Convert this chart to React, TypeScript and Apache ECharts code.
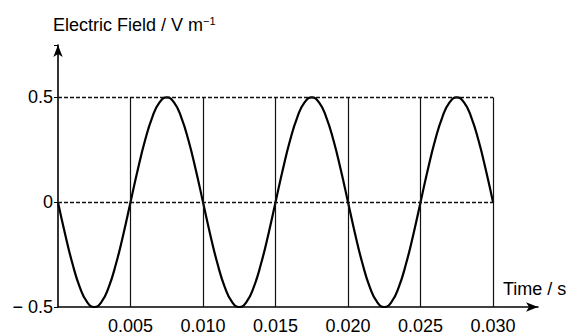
import React, { useEffect, useRef } from "react";
import * as echarts from "echarts";

const times: number[] = [
  0, 0.0005, 0.001, 0.0015, 0.002, 0.0025, 0.003, 0.0035, 0.004, 0.0045,
  0.005, 0.0055, 0.006, 0.0065, 0.007, 0.0075, 0.008, 0.0085, 0.009, 0.0095,
  0.01, 0.0105, 0.011, 0.0115, 0.012, 0.0125, 0.013, 0.0135, 0.014, 0.0145,
  0.015, 0.0155, 0.016, 0.0165, 0.017, 0.0175, 0.018, 0.0185, 0.019, 0.0195,
  0.02, 0.0205, 0.021, 0.0215, 0.022, 0.0225, 0.023, 0.0235, 0.024, 0.0245,
  0.025, 0.0255, 0.026, 0.0265, 0.027, 0.0275, 0.028, 0.0285, 0.029, 0.0295,
  0.03,
];

const field: number[] = [
  0, -0.155, -0.294, -0.405, -0.476, -0.5, -0.476, -0.405, -0.294, -0.155,
  0, 0.155, 0.294, 0.405, 0.476, 0.5, 0.476, 0.405, 0.294, 0.155,
  0, -0.155, -0.294, -0.405, -0.476, -0.5, -0.476, -0.405, -0.294, -0.155,
  0, 0.155, 0.294, 0.405, 0.476, 0.5, 0.476, 0.405, 0.294, 0.155,
  0, -0.155, -0.294, -0.405, -0.476, -0.5, -0.476, -0.405, -0.294, -0.155,
  0, 0.155, 0.294, 0.405, 0.476, 0.5, 0.476, 0.405, 0.294, 0.155,
  0,
];

const xTickLabels: number[] = [0.005, 0.01, 0.015, 0.02, 0.025, 0.03];
const yTickLabels: number[] = [-0.5, 0, 0.5];
const hGridValues: number[] = [0.5, 0];

const FONT = "Liberation Sans";
const INK = "#000";

export default function App() {
  const ref = useRef<HTMLDivElement>(null);
  useEffect(() => {
    if (!ref.current) return;
    const chart = echarts.init(ref.current, undefined, { renderer: "svg" });
    const data = times.map((t, i) => [t, field[i]]);
    const vLines = xTickLabels.map((x) => [
      { coord: [x, -0.5] },
      { coord: [x, 0.5] },
    ]);
    const hLines = hGridValues.map((y) => [
      { coord: [0, y] },
      { coord: [xTickLabels[xTickLabels.length - 1], y] },
    ]);
    chart.setOption({
      animation: false,
      backgroundColor: "#fff",
      grid: { left: 58, right: 35, top: 45, bottom: 28, containLabel: false },
      xAxis: {
        type: "value",
        min: 0,
        max: 0.0331,
        interval: 0.005,
        axisLine: {
          show: true,
          onZero: false,
          symbol: ["none", "arrow"],
          symbolSize: [7, 12],
          lineStyle: { color: INK, width: 1.6 },
        },
        axisTick: { show: false },
        splitLine: { show: false },
        axisLabel: {
          fontFamily: FONT,
          fontSize: 18,
          color: INK,
          margin: 10,
          formatter: (v: number) => {
            const m = xTickLabels.find((x) => Math.abs(x - v) < 1e-9);
            return m === undefined ? "" : m.toFixed(3);
          },
        },
      },
      yAxis: {
        type: "value",
        min: -0.5,
        max: 0.75,
        interval: 0.5,
        axisLine: {
          show: true,
          onZero: false,
          symbol: ["none", "arrow"],
          symbolSize: [7, 12],
          lineStyle: { color: INK, width: 1.6 },
        },
        axisTick: { show: true, length: 4, lineStyle: { color: INK } },
        splitLine: { show: false },
        axisLabel: {
          fontFamily: FONT,
          fontSize: 18,
          color: INK,
          margin: 5,
          formatter: (v: number) => {
            const m = yTickLabels.find((y) => Math.abs(y - v) < 1e-9);
            if (m === undefined) return "";
            if (m === 0) return "0";
            return m < 0 ? "\u2212 " + Math.abs(m).toFixed(1) : m.toFixed(1);
          },
        },
      },
      graphic: [
        {
          type: "text",
          left: 53,
          top: 15,
          style: {
            text: "{a|Electric Field / V m}{b|\u22121}",
            rich: {
              a: { fontFamily: FONT, fontSize: 18, fill: INK },
              b: { fontFamily: FONT, fontSize: 11, fill: INK, verticalAlign: "top", padding: [0, 0, 8, 0] },
            },
          },
        },
        {
          type: "text",
          left: 503,
          top: 280,
          style: { text: "Time / s", fontFamily: FONT, fontSize: 18, fill: INK },
        },
      ],
      series: [
        {
          type: "line",
          data,
          smooth: true,
          showSymbol: false,
          lineStyle: { color: "#000", width: 2.2 },
          silent: true,
          z: 3,
          markLine: {
            silent: true,
            symbol: ["none", "none"],
            label: { show: false },
            lineStyle: { color: "#111", width: 1.2, type: "solid" },
            data: vLines,
          },
        },
        {
          type: "line",
          data: [],
          silent: true,
          markLine: {
            silent: true,
            symbol: ["none", "none"],
            label: { show: false },
            lineStyle: { color: "#111", width: 1.3, type: [4, 2] },
            data: hLines,
          },
        },
      ],
    });
    return () => chart.dispose();
  }, []);
  return (
    <div
      ref={ref}
      style={{ position: "absolute", left: 0, top: 0, width: 573, height: 335 }}
    />
  );
}
